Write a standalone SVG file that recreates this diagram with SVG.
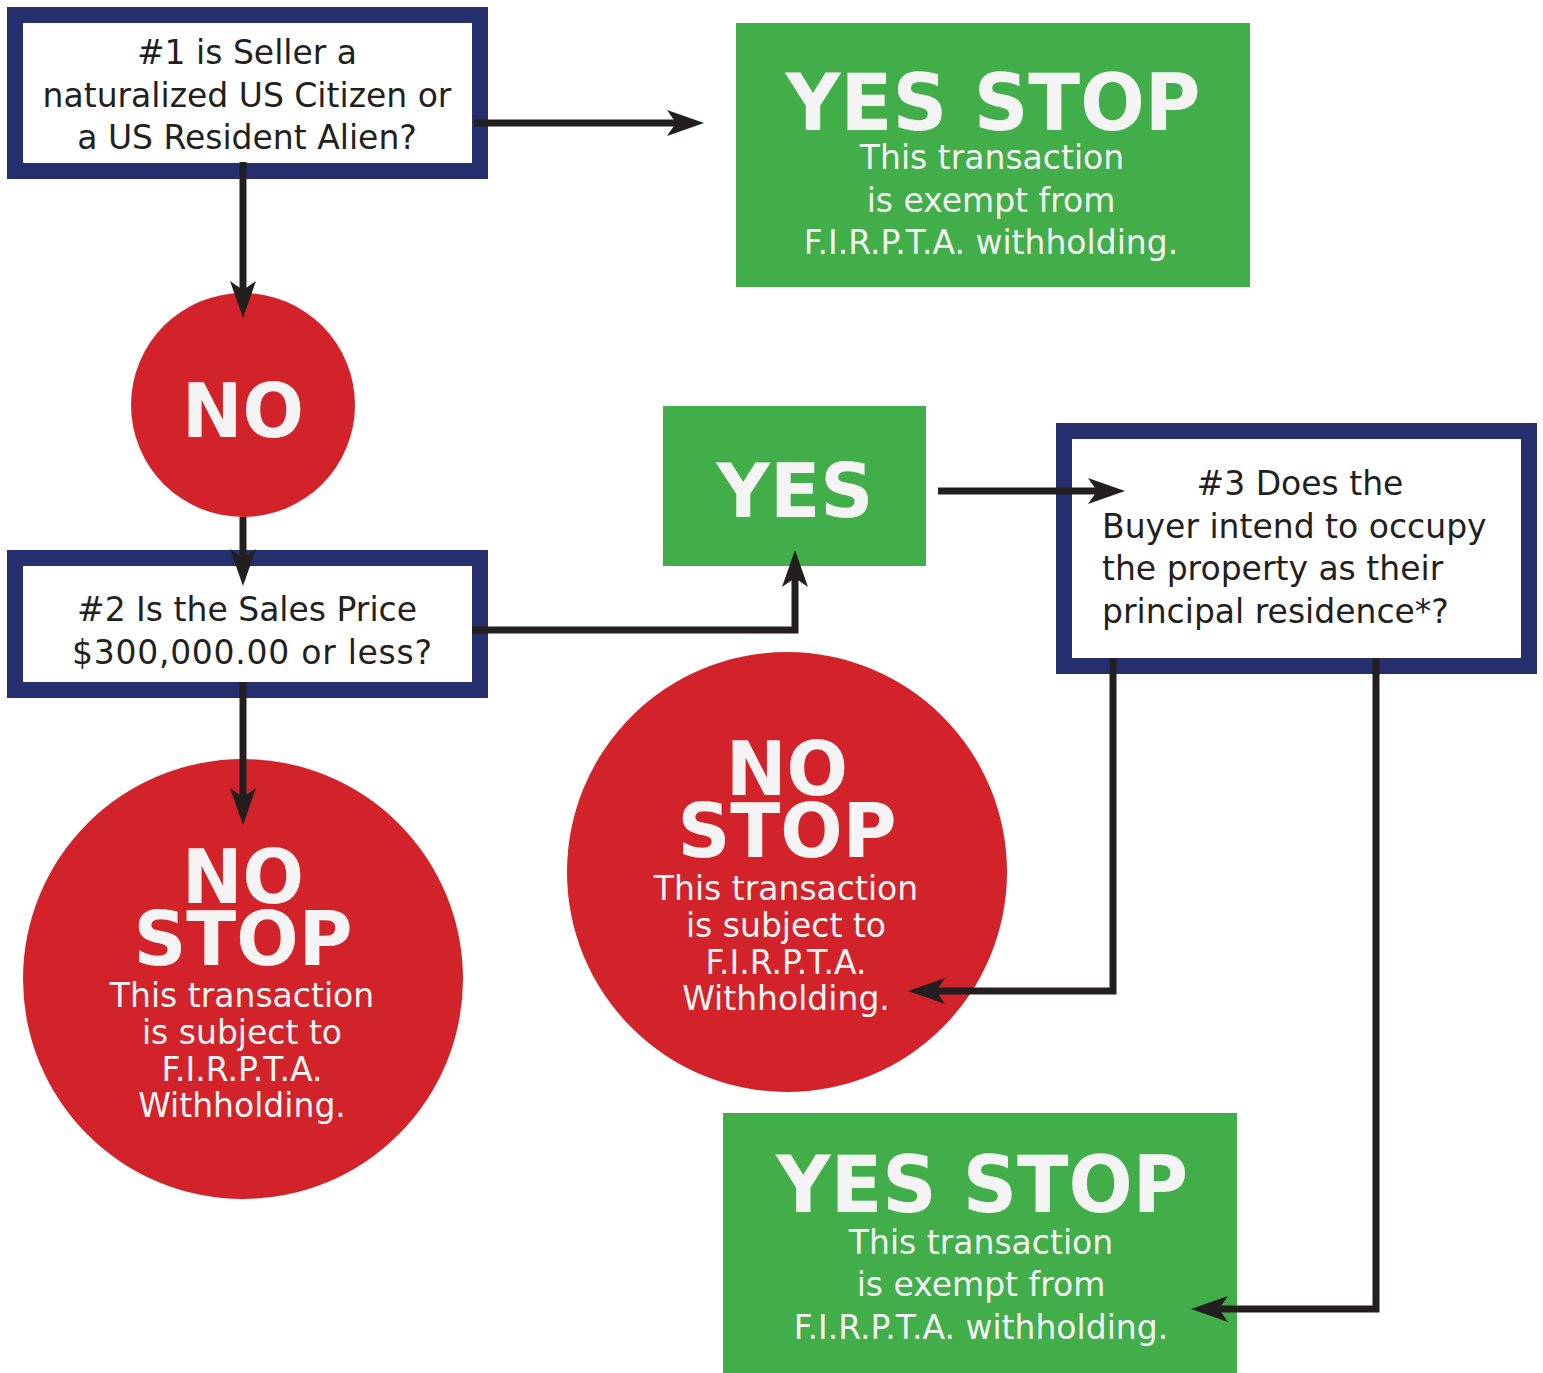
<svg xmlns="http://www.w3.org/2000/svg" width="1543" height="1373" viewBox="0 0 1543 1373">
<style>
.q{fill:#fff;stroke:#262f6e;stroke-width:16}
.g{fill:#41ae4a}
.r{fill:#d2232a}
.t{font-family:"DejaVu Sans",sans-serif;font-size:33px;fill:#231f20}
.w{font-family:"DejaVu Sans",sans-serif;font-size:33px;fill:#f4f4f4;text-anchor:middle}
.b{font-family:"DejaVu Sans",sans-serif;font-weight:bold;font-size:75px;fill:#f4f4f4;text-anchor:middle}
.bb{font-size:79px}
.c{fill:none;stroke:#231f20;stroke-width:7;marker-end:url(#ah)}
</style>
<defs>
<marker id="ah" viewBox="0 0 37 26" refX="9" refY="13" markerWidth="37" markerHeight="26" markerUnits="userSpaceOnUse" orient="auto">
<path d="M0,0 L37,13 L0,26 L9,13 Z" fill="#231f20"/>
</marker>
</defs>
<rect width="1543" height="1373" fill="#fff"/>
<g id="q1">
<rect class="q" x="15" y="15" width="465" height="156"/>
<text class="t" text-anchor="middle" x="247" y="64">#1 is Seller a</text>
<text class="t" text-anchor="middle" x="247" y="107">naturalized US Citizen or</text>
<text class="t" text-anchor="middle" x="247" y="149">a US Resident Alien?</text>
</g>
<g id="yesstop1">
<rect class="g" x="736" y="23" width="514" height="264"/>
<text class="b bb" x="993" y="130" textLength="415" lengthAdjust="spacingAndGlyphs">YES STOP</text>
<text class="w" x="992" y="169">This transaction</text>
<text class="w" x="991" y="212">is exempt from</text>
<text class="w" x="991" y="254">F.I.R.P.T.A. withholding.</text>
</g>
<g id="no1">
<circle class="r" cx="243" cy="405" r="112"/>
<text class="b" x="243" y="437" textLength="122" lengthAdjust="spacingAndGlyphs">NO</text>
</g>
<g id="q2">
<rect class="q" x="15" y="558" width="465" height="132"/>
<text class="t" text-anchor="middle" x="247" y="621">#2 Is the Sales Price</text>
<text class="t" text-anchor="middle" x="252" y="664" textLength="360">$300,000.00 or less?</text>
</g>
<g id="yes">
<rect class="g" x="663" y="406" width="263" height="160"/>
<text class="b" x="795" y="517" textLength="157" lengthAdjust="spacingAndGlyphs">YES</text>
</g>
<g id="q3">
<rect class="q" x="1064" y="431" width="465" height="235"/>
<text class="t" text-anchor="middle" x="1300" y="495">#3 Does the</text>
<text class="t" x="1102" y="538">Buyer intend to occupy</text>
<text class="t" x="1102" y="580">the property as their</text>
<text class="t" x="1102" y="623">principal residence*?</text>
</g>
<g id="nostop1">
<circle class="r" cx="243" cy="979" r="220"/>
<text class="b" x="243" y="903" textLength="122" lengthAdjust="spacingAndGlyphs">NO</text>
<text class="b" x="243" y="965" textLength="219" lengthAdjust="spacingAndGlyphs">STOP</text>
<text class="w" x="242" y="1007">This transaction</text>
<text class="w" x="242" y="1044">is subject to</text>
<text class="w" x="242" y="1081">F.I.R.P.T.A.</text>
<text class="w" x="242" y="1117">Withholding.</text>
</g>
<g id="nostop2">
<circle class="r" cx="787" cy="872" r="220"/>
<text class="b" x="787" y="795" textLength="122" lengthAdjust="spacingAndGlyphs">NO</text>
<text class="b" x="787" y="857" textLength="219" lengthAdjust="spacingAndGlyphs">STOP</text>
<text class="w" x="786" y="900">This transaction</text>
<text class="w" x="786" y="937">is subject to</text>
<text class="w" x="786" y="974">F.I.R.P.T.A.</text>
<text class="w" x="786" y="1010">Withholding.</text>
</g>
<g id="yesstop2">
<rect class="g" x="723" y="1113" width="514" height="260"/>
<text class="b bb" x="982" y="1212" textLength="412" lengthAdjust="spacingAndGlyphs">YES STOP</text>
<text class="w" x="981" y="1254">This transaction</text>
<text class="w" x="981" y="1296">is exempt from</text>
<text class="w" x="981" y="1339">F.I.R.P.T.A. withholding.</text>
</g>
<g id="connectors">
<path class="c" d="M474,123 H676"/>
<path class="c" d="M243,162 V290"/>
<path class="c" d="M243,517 V558"/>
<path class="c" d="M243,682 V797"/>
<path class="c" d="M472,630 H795 V578"/>
<path class="c" d="M938,491 H1097"/>
<path class="c" d="M1113,658 V991 H936"/>
<path class="c" d="M1376,658 V1309 H1219"/>
</g>
</svg>
